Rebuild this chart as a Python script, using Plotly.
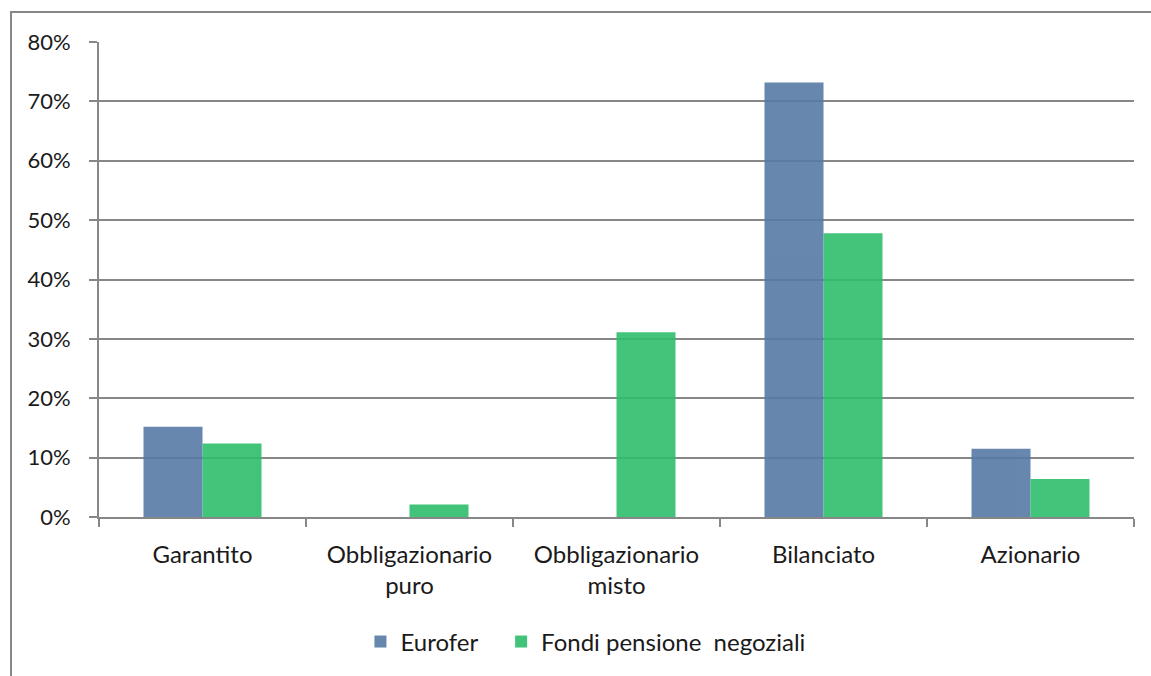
import plotly.graph_objects as go

# Distribuzione per comparto: Eurofer vs fondi pensione negoziali (quota %)
categories = ["Garantito", "Obbligazionario<br>puro", "Obbligazionario<br>misto", "Bilanciato", "Azionario"]
eurofer = [15.2, 0.0, 0.0, 73.2, 11.5]
fondi_negoziali = [12.4, 2.1, 31.1, 47.8, 6.4]
y_ticks = [0, 10, 20, 30, 40, 50, 60, 70, 80]
y_tick_labels = [f"{v}%" for v in y_ticks]

FONT = "Lato"
GRAY = "#878787"
TEXT = "#1a1a1a"

fig = go.Figure()
fig.add_trace(go.Bar(
    name="Eurofer\u00a0\u00a0\u00a0", x=categories, y=eurofer,
    marker=dict(color="#567AA5", line=dict(width=0)), opacity=0.9,
))
fig.add_trace(go.Bar(
    name="Fondi pensione\u00a0 negoziali", x=categories, y=fondi_negoziali,
    marker=dict(color="#2DBE6B", line=dict(width=0)), opacity=0.9,
))

# outer chart frame (top and left edges)
fig.add_shape(type="path", xref="paper", yref="paper",
              path="M -0.085,-0.5 L -0.085,1.063 L 1.2,1.063",
              line=dict(color=GRAY, width=2))

fig.update_layout(
    width=1151, height=676,
    margin=dict(l=99, r=17, t=42, b=156.5),
    paper_bgcolor="white", plot_bgcolor="white",
    barmode="group", bargap=0.43, bargroupgap=0,
    font=dict(family=FONT, size=24, color=TEXT),
    showlegend=True,
    legend=dict(orientation="h", x=0.47, xanchor="center", y=-0.263, yanchor="middle",
                font=dict(family=FONT, size=24, color=TEXT),
                itemwidth=30, traceorder="normal"),
    xaxis=dict(
        showline=True, linecolor=GRAY, linewidth=2,
        ticks="outside", ticklen=8, tickwidth=2, tickcolor=GRAY,
        tickson="boundaries", showgrid=False, zeroline=False,
        tickfont=dict(family=FONT, size=24, color=TEXT),
        ticklabelstandoff=15,
    ),
    yaxis=dict(
        range=[0, 80], tickvals=y_ticks, ticktext=y_tick_labels,
        showline=True, linecolor=GRAY, linewidth=2,
        ticks="outside", ticklen=8, tickwidth=2, tickcolor=GRAY,
        showgrid=True, gridcolor=GRAY, gridwidth=2, zeroline=False,
        tickfont=dict(family=FONT, size=22, color=TEXT),
        ticklabelstandoff=14,
    ),
)

fig.write_html("out.html")
